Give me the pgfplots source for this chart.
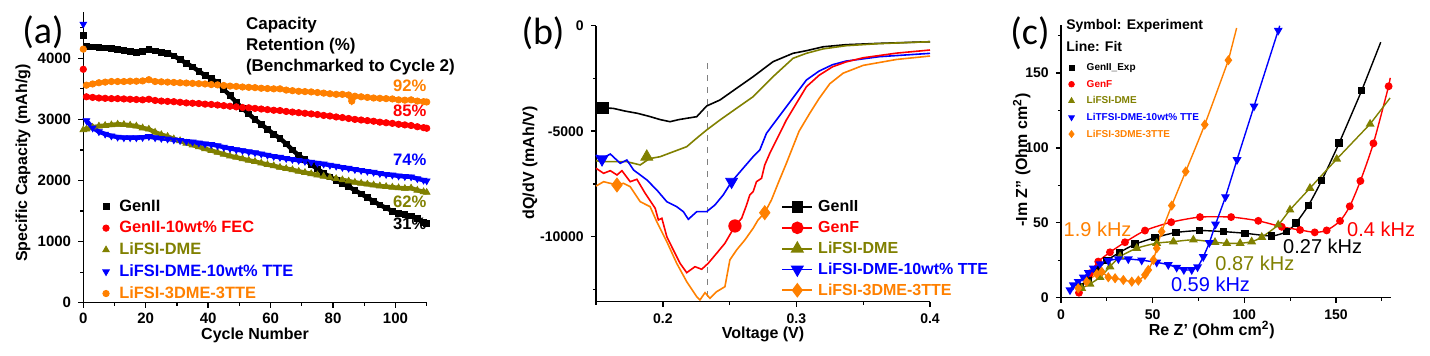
\documentclass[border=0pt]{standalone}
\usepackage{pgfplots}
\usepackage{pgfplotstable}
\pgfplotsset{compat=1.18}
\usepackage{fontspec}
\setmainfont{Liberation Sans}
\newfontfamily\calib{Carlito}
\definecolor{oOrange}{RGB}{255,128,0}
\definecolor{oOlive}{RGB}{128,128,0}
\definecolor{oRed}{RGB}{255,0,0}
\definecolor{oBlue}{RGB}{0,0,255}
\newcommand{\fs}[1]{\fontsize{#1}{#1}\selectfont\bfseries}

\pgfplotstableread{
c v
1 4190
3 4185
5 4180
7 4170
9 4160
11 4150
13 4130
15 4110
17 4100
19 4110
21 4150
23 4120
25 4100
27 4080
29 4040
31 3980
33 3920
35 3860
37 3790
39 3720
41 3670
43 3600
45 3490
47 3390
49 3280
51 3180
53 3090
55 3000
57 2920
59 2840
61 2760
63 2690
65 2600
67 2500
69 2410
71 2340
73 2260
75 2190
77 2120
79 2060
81 2000
83 1950
85 1900
87 1840
89 1780
91 1720
93 1660
95 1600
97 1550
99 1500
101 1460
103 1440
105 1420
107 1380
109 1320
110 1300
}\aBlack

\pgfplotstableread{
c v
1 3560
3 3580
5 3600
7 3610
9 3620
11 3620
13 3620
15 3625
17 3625
19 3630
21 3650
23 3620
25 3615
27 3610
29 3605
31 3600
33 3595
35 3590
37 3585
39 3580
41 3570
43 3565
45 3555
47 3545
49 3540
51 3530
53 3525
55 3520
57 3510
59 3505
61 3500
63 3500
65 3480
67 3470
69 3460
71 3455
73 3450
75 3440
77 3430
79 3420
81 3410
83 3410
85 3400
86 3300
87 3380
89 3370
91 3360
93 3350
95 3345
97 3340
99 3335
101 3320
103 3315
105 3320
107 3300
109 3290
110 3285
}\aOrange

\pgfplotstableread{
c v
1 3370
3 3360
5 3350
7 3345
9 3340
11 3340
13 3335
15 3330
17 3325
19 3320
21 3330
23 3310
25 3300
27 3295
29 3290
31 3280
33 3270
35 3265
37 3260
39 3250
41 3245
43 3235
45 3225
47 3215
49 3205
51 3195
53 3190
55 3180
57 3170
59 3160
61 3150
63 3145
65 3130
67 3120
69 3110
71 3100
73 3090
75 3080
77 3065
79 3055
81 3040
83 3030
85 3015
87 3000
89 2990
91 2980
93 2970
95 2955
97 2945
99 2935
101 2920
103 2910
105 2900
107 2880
109 2865
110 2855
}\aRed

\pgfplotstableread{
c v
0 2830
1 2840
3 2870
5 2890
7 2900
9 2910
11 2920
13 2915
15 2905
17 2890
19 2860
21 2840
23 2790
25 2750
27 2720
29 2680
31 2650
33 2610
35 2580
37 2550
39 2520
41 2490
43 2460
45 2430
47 2400
49 2380
51 2355
53 2330
55 2310
57 2285
59 2260
61 2240
63 2215
65 2195
67 2175
69 2150
71 2130
73 2110
75 2090
77 2070
79 2050
81 2030
83 2010
85 1990
87 1970
89 1955
91 1940
93 1925
95 1910
97 1900
99 1890
101 1880
103 1870
105 1875
107 1840
109 1815
110 1805
}\aOlive

\pgfplotstableread{
c v
1 2980
3 2860
5 2800
7 2760
9 2730
11 2710
13 2700
15 2700
17 2700
19 2705
21 2720
23 2700
25 2690
27 2680
29 2665
31 2655
33 2640
35 2630
37 2615
39 2600
41 2590
43 2570
45 2545
47 2525
49 2505
51 2490
53 2470
55 2455
57 2435
59 2415
61 2395
63 2380
65 2360
67 2345
69 2330
71 2315
73 2300
75 2285
77 2270
79 2250
81 2235
83 2215
85 2200
87 2180
89 2165
91 2150
93 2135
95 2115
97 2100
99 2090
101 2075
103 2065
105 2060
107 2030
109 2005
110 1995
}\aBlue

\pgfplotsset{
  panel/.style={
    scale only axis, anchor=south west,
    axis x line*=bottom, axis y line*=left,
    tick align=outside, major tick length=2.6pt, minor tick length=1.6pt,
    axis line style={line width=0.7pt},
    every tick/.style={line width=0.7pt, black},
    every minor tick/.style={line width=0.6pt, black},
    scaled ticks=false,
    /pgf/number format/1000 sep={},
    /pgf/number format/assume math mode=true,
    clip=false,
    tick label style={font=\fs{7}},
    label style={font=\fs{8}},
    legend cell align=left,
  },
}

\begin{document}
\begin{tikzpicture}
\useasboundingbox (0,0) rectangle (715pt,178pt);

% ---------------- (a) ----------------
\begin{axis}[panel,
  at={(41.65pt,26.65pt)}, width=171.7pt, height=145.1pt,
  xmin=0, xmax=110, ymin=0, ymax=4750,
  xtick={0,20,40,60,80,100}, minor xtick={10,30,50,70,90,110},
  ytick={0,1000,2000,3000,4000}, minor ytick={500,1500,2500,3500,4500},
  tick label style={font=\fs{7.5}},
  xticklabel style={yshift=1pt},
  xlabel={Cycle Number}, ylabel={Specific Capacity (mAh/g)},
  xlabel style={at={(axis description cs:0.5,-0.112)}, anchor=center},
  ylabel style={at={(axis description cs:-0.1756,0.481)}, anchor=center},
  legend style={at={(0.038,0.372)}, anchor=north west, draw=none, fill=none,
    font=\fs{8.2}, row sep=3.7pt, column sep=5pt,
    nodes={inner sep=0pt, text height=6pt, text depth=1.2pt}},
  legend image code/.code={\draw[mark repeat=2,mark phase=2,#1] plot coordinates {(0pt,0pt)(4.25pt,0pt)(8.5pt,0pt)};},
]
\addplot[forget plot, black, line width=2.2pt] table[x=c,y=v] {\aBlack};
\addplot[only marks, black, mark=square*, mark size=1.45pt] table[x=c,y=v] {\aBlack};
\addlegendentry{GenII}
\addplot[forget plot, oRed, line width=2.2pt] table[x=c,y=v] {\aRed};
\addplot[only marks, oRed, mark=*, mark size=1.6pt] table[x=c,y=v] {\aRed};
\addlegendentry{\textcolor{oRed}{GenII-10wt\% FEC}}
\addplot[forget plot, oOlive, line width=2.2pt] table[x=c,y=v] {\aOlive};
\addplot[only marks, oOlive, mark=triangle*, mark size=1.9pt] table[x=c,y=v] {\aOlive};
\addlegendentry{\textcolor{oOlive}{LiFSI-DME}}
\addplot[forget plot, oBlue, line width=2.2pt] table[x=c,y=v] {\aBlue};
\addplot[only marks, oBlue, mark=triangle*, mark size=1.9pt, mark options={rotate=180}] table[x=c,y=v] {\aBlue};
\addlegendentry{\textcolor{oBlue}{LiFSI-DME-10wt\% TTE}}
\addplot[forget plot, oOrange, line width=2.2pt] table[x=c,y=v] {\aOrange};
\addplot[only marks, oOrange, mark=*, mark size=1.6pt] table[x=c,y=v] {\aOrange};
\addlegendentry{\textcolor{oOrange}{LiFSI-3DME-3TTE}}
% cycle-0 points
\addplot[forget plot, only marks, black, mark=square*, mark size=1.45pt] coordinates {(0,4380)};
\addplot[forget plot, only marks, oRed, mark=*, mark size=1.6pt] coordinates {(0,3820)};
\addplot[forget plot, only marks, oBlue, mark=triangle*, mark size=1.9pt, mark options={rotate=180}] coordinates {(0,4560)};
\addplot[forget plot, only marks, oOrange, mark=*, mark size=1.6pt] coordinates {(0,4150)};
% annotations
\node[anchor=west, inner sep=0pt, font=\fs{8.5}] at (axis cs:52,4545) {Capacity};
\node[anchor=west, inner sep=0pt, font=\fs{8.5}] at (axis cs:52,4201) {Retention (\%)};
\node[anchor=west, inner sep=0pt, font=\fs{8.5}] at (axis cs:52,3852) {(Benchmarked to Cycle 2)};
\node[anchor=east, inner sep=0pt, font=\fs{8.3}, text=oOrange] at (axis cs:110,3547) {92\%};
\node[anchor=east, inner sep=0pt, font=\fs{8.3}, text=oRed] at (axis cs:110,3137) {85\%};
\node[anchor=east, inner sep=0pt, font=\fs{8.3}, text=oBlue] at (axis cs:110,2347) {74\%};
\node[anchor=east, inner sep=0pt, font=\fs{8.3}, text=oOlive] at (axis cs:110,1653) {62\%};
\node[anchor=east, inner sep=0pt, font=\fs{8.3}, text=black] at (axis cs:110,1288) {31\%};
\end{axis}

% ---------------- (b) ----------------
\begin{axis}[panel,
  at={(298pt,27.15pt)}, width=167pt, height=138pt,
  xmin=0.15, xmax=0.4, ymin=-13080, ymax=0,
  xtick={0.2,0.3,0.4}, minor xtick={0.15,0.25,0.35},
  ytick={-10000,-5000,0}, minor ytick={-12500,-7500,-2500},
  xlabel={Voltage (V)}, ylabel={dQ/dV (mAh/V)},
  xlabel style={at={(axis description cs:0.5,-0.118)}, anchor=center},
  ylabel style={at={(axis description cs:-0.198,0.503)}, anchor=center},
  legend style={at={(0.536,0.385)}, anchor=north west, draw=none, fill=none,
    font=\fs{8}, row sep=3.2pt, column sep=2.5pt,
    nodes={inner sep=0pt, text height=6pt, text depth=1.2pt}},
  legend image code/.code={\draw[mark repeat=2,mark phase=2,#1] plot coordinates {(0pt,0pt)(7.5pt,0pt)(15pt,0pt)};},
]
\addlegendimage{black, line width=0.9pt, mark=square*, mark size=2.4pt}
\addlegendentry{GenII}
\addlegendimage{oRed, line width=0.9pt, mark=*, mark size=2.7pt}
\addlegendentry{\textcolor{oRed}{GenF}}
\addlegendimage{oOlive, line width=0.9pt, mark=triangle*, mark size=3pt}
\addlegendentry{\textcolor{oOlive}{LiFSI-DME}}
\addlegendimage{oBlue, line width=0.9pt, mark=triangle*, mark size=3pt, mark options={rotate=180}}
\addlegendentry{\textcolor{oBlue}{LiFSI-DME-10wt\% TTE}}
\addlegendimage{oOrange, line width=0.9pt, mark=diamond*, mark size=3pt}
\addlegendentry{\textcolor{oOrange}{LiFSI-3DME-3TTE}}

\addplot[forget plot, gray, dashed, line width=0.6pt] coordinates {(0.2336,-1790)(0.2336,-13080)};

\addplot[forget plot, black, line width=0.8pt] coordinates {
(0.150,-3870)(0.1545,-3886)(0.163,-3920)(0.172,-4050)(0.181,-4152)(0.190,-4300)(0.198,-4450)(0.2054,-4550)(0.212,-4450)(0.2179,-4389)(0.2254,-4313)(0.2328,-3806)(0.2428,-3521)(0.2552,-2967)(0.2676,-2417)(0.2825,-1706)(0.2975,-1308)(0.3075,-1185)(0.320,-1000)(0.337,-900)(0.362,-837)(0.400,-760)};
\addplot[forget plot, oOlive, line width=0.8pt] coordinates {
(0.150,-6400)(0.1557,-6445)(0.1731,-6445)(0.1831,-6600)(0.190,-6300)(0.198,-6209)(0.2079,-5972)(0.2179,-5735)(0.225,-5350)(0.2328,-4943)(0.2428,-4469)(0.2552,-3915)(0.2676,-3365)(0.2825,-2417)(0.2975,-1545)(0.3075,-1308)(0.320,-1100)(0.337,-950)(0.362,-850)(0.400,-760)};
\addplot[forget plot, oBlue, line width=0.8pt] coordinates {
(0.150,-6128)(0.1545,-6300)(0.1607,-6081)(0.1681,-6521)(0.1731,-6365)(0.1781,-6838)(0.1881,-7312)(0.1955,-7786)(0.2030,-8341)(0.2104,-8578)(0.2154,-8815)(0.2191,-9175)(0.2254,-8815)(0.2328,-8815)(0.2390,-8497)(0.2452,-8023)(0.2515,-7393)(0.2601,-6758)(0.2676,-6208)(0.2726,-5891)(0.2776,-5099)(0.2925,-3839)(0.3075,-2573)(0.317,-2150)(0.327,-1850)(0.337,-1680)(0.362,-1470)(0.400,-1311)};
\addplot[forget plot, oRed, line width=0.8pt] coordinates {
(0.150,-6758)(0.1557,-6995)(0.1607,-6872)(0.1657,-7075)(0.1694,-6872)(0.1756,-7393)(0.1806,-7279)(0.1868,-7943)(0.1943,-8654)(0.1967,-9208)(0.1993,-9128)(0.2030,-9999)(0.2079,-10630)(0.2129,-11260)(0.2179,-11705)(0.2241,-11421)(0.2291,-11544)(0.2340,-11260)(0.2403,-10786)(0.2465,-10312)(0.2540,-9492)(0.2590,-9128)(0.2627,-8497)(0.2651,-8023)(0.2676,-7867)(0.2701,-7393)(0.2739,-7232)(0.2763,-6601)(0.2801,-6047)(0.2925,-4469)(0.3075,-2891)(0.317,-2350)(0.327,-1950)(0.337,-1720)(0.350,-1520)(0.375,-1300)(0.400,-1153)};
\addplot[forget plot, oOrange, line width=0.8pt] coordinates {
(0.150,-7600)(0.1557,-7393)(0.1657,-7549)(0.1706,-7469)(0.1756,-7630)(0.1831,-8341)(0.1905,-8578)(0.1955,-9289)(0.2030,-10236)(0.2104,-11260)(0.2179,-12132)(0.2254,-12843)(0.2278,-12999)(0.2316,-12653)(0.2353,-12919)(0.2403,-12606)(0.2465,-12369)(0.2502,-11103)(0.2552,-10630)(0.2614,-10156)(0.2676,-9601)(0.2713,-9208)(0.2763,-8862)(0.2813,-8260)(0.2863,-7469)(0.2925,-6521)(0.302,-5000)(0.310,-4150)(0.317,-3450)(0.325,-2750)(0.335,-2250)(0.350,-1880)(0.375,-1600)(0.400,-1438)};
% single markers on the curves
\addplot[forget plot, only marks, black, mark=square*, mark size=2.8pt] coordinates {(0.155,-3880)};
\addplot[forget plot, only marks, oOlive, mark=triangle*, mark size=3.4pt] coordinates {(0.188,-6209)};
\addplot[forget plot, only marks, oBlue, mark=triangle*, mark size=3.4pt, mark options={rotate=180}] coordinates {(0.1545,-6330)(0.2515,-7393)};
\addplot[forget plot, only marks, oRed, mark=*, mark size=3.1pt] coordinates {(0.2540,-9492)};
\addplot[forget plot, only marks, oOrange, mark=diamond*, mark size=3.5pt] coordinates {(0.1657,-7549)(0.2763,-8862)};
\end{axis}

% ---------------- (c) ----------------
\begin{axis}[panel,
  at={(530.5pt,29.15pt)}, width=165pt, height=136.35pt,
  xmin=0, xmax=180, ymin=0, ymax=182,
  xtick={0,50,100,150}, minor xtick={25,75,125,175},
  ytick={0,50,100,150}, minor ytick={25,75,125,175},
  xlabel={Re Z' (Ohm cm$^{\mathbf 2}$)}, ylabel={-Im Z'' (Ohm cm$^{\mathbf 2}$)},
  xlabel style={at={(axis description cs:0.457,-0.118)}, anchor=center},
  ylabel style={at={(axis description cs:-0.119,0.505)}, anchor=center},
  legend style={at={(0.004,0.878)}, anchor=north west, draw=none, fill=none,
    font=\fs{5}, row sep=3.3pt, column sep=6.2pt,
    nodes={inner sep=0pt, text height=4pt, text depth=1pt}},
  legend image code/.code={\draw[mark repeat=2,mark phase=2,#1] plot coordinates {(0pt,0pt)(3pt,0pt)(6pt,0pt)};},
]
\addlegendimage{only marks, black, mark=square*, mark size=1.2pt}
\addlegendentry{GenII\_Exp}
\addlegendimage{only marks, oRed, mark=*, mark size=1.4pt}
\addlegendentry{\textcolor{oRed}{GenF}}
\addlegendimage{only marks, oOlive, mark=triangle*, mark size=1.6pt}
\addlegendentry{\textcolor{oOlive}{LiFSI-DME}}
\addlegendimage{only marks, oBlue, mark=triangle*, mark size=1.6pt, mark options={rotate=180}}
\addlegendentry{\textcolor{oBlue}{LiTFSI-DME-10wt\% TTE}}
\addlegendimage{only marks, oOrange, mark=diamond*, mark size=1.7pt}
\addlegendentry{\textcolor{oOrange}{LiFSI-3DME-3TTE}}

% GenII
\addplot[forget plot, black, line width=0.7pt, smooth, tension=0.4, mark=square*, mark size=1.5pt, mark options={solid}] coordinates {
(10.4,7.4)(14.9,13)(19.5,18.5)(24.9,24.7)(31.8,30.1)(40.4,35.7)(51.3,40.1)(62.7,43.5)(75.5,44.8)(88.5,44.1)(100.4,43)(114.9,41.2)(123.1,44.1)(128.2,49.9)(134.9,61.5)(142.2,78.2)(151.7,103.2)(164.0,138.2)};
\addplot[forget plot, black, line width=0.7pt] coordinates {(164.0,138.2)(174.4,170.5)};
% GenF
\addplot[forget plot, oRed, line width=0.7pt, smooth, tension=0.4, mark=*, mark size=1.6pt, mark options={solid}] coordinates {
(9.8,3.3)(15.8,16.3)(20.3,24.1)(26.7,30.3)(34.9,37)(45.8,44.8)(60.1,50.4)(75.8,53.8)(92.8,53.8)(107.6,51.3)(120.4,47.3)(130.4,45.2)(138.4,43.6)(144.9,44.9)(152.2,51.2)(157.5,61)(163.3,77.9)(170.4,103)(178.7,141.1)};
\addplot[forget plot, oRed, line width=0.7pt] coordinates {(178.7,141.1)(179.6,146.7)};
% LiFSI-DME
\addplot[forget plot, oOlive, line width=0.7pt, smooth, tension=0.4, mark=triangle*, mark size=1.9pt, mark options={solid}] coordinates {
(11.3,6.3)(15.8,9.2)(21.3,13.6)(26.7,20.7)(32.2,27.4)(41.3,33)(52.2,36.4)(61.3,37.4)(72.2,38.6)(84,37)(90.4,36.3)(97.7,36.3)(104,37.4)(109.5,40.4)(118.5,48.6)(124.9,58.6)(135.8,73.1)(150.4,92.5)(168.6,115.9)};
\addplot[forget plot, oOlive, line width=0.7pt] coordinates {(168.6,115.9)(179.5,133.3)};
% LiTFSI-DME-10wt% TTE
\addplot[forget plot, oBlue, line width=0.7pt, smooth, tension=0.4, mark=triangle*, mark size=1.9pt, mark options={solid, rotate=180}] coordinates {
(4.9,5.1)(6.7,8.5)(9.4,10.7)(12.2,13.6)(14.9,16.7)(17.6,19.7)(21.3,22.5)(25.8,24.7)(31.3,25.9)(36.7,25.8)(44,25)(52.2,23.6)(58.5,22)(63.1,20.2)(67,18.6)(71.3,18.6)(74.5,20.5)(77.6,27.3)(80.9,36.7)(84.3,49)(89.7,67.3)(96,92)(105.3,127.8)(118.5,178.4)};
\addplot[forget plot, oBlue, line width=0.7pt] coordinates {(118.5,178.4)(119.3,181.5)};
% LiFSI-3DME-3TTE
\addplot[forget plot, oOrange, line width=0.7pt, smooth, tension=0.4, mark=diamond*, mark size=2pt, mark options={solid}] coordinates {
(9.4,6.3)(14,10.7)(19.5,15.8)(22.2,17.4)(25.8,13.6)(29.5,13)(34,11.8)(38.6,10.7)(42.2,11.4)(45.8,15.2)(47.6,18.5)(50.4,25.2)(52.2,33)(54.9,44.1)(60.4,61.5)(68,84.2)(78.4,115.5)(91.3,158.5)};
\addplot[forget plot, oOrange, line width=0.7pt] coordinates {(91.3,158.5)(95.8,180)};

\node[anchor=west, inner sep=0pt, font=\fs{7}] at (axis cs:2.7,181.1) {Symbol: Experiment};
\node[anchor=west, inner sep=0pt, font=\fs{7}] at (axis cs:2.7,167.4) {Line: Fit};
\node[anchor=west, inner sep=0pt, font=\fontsize{10}{10}\selectfont, text=oOrange] at (axis cs:1.25,45.3) {1.9 kHz};
\node[anchor=west, inner sep=0pt, font=\fontsize{10}{10}\selectfont, text=oRed] at (axis cs:155.9,45.7) {0.4 kHz};
\node[anchor=west, inner sep=0pt, font=\fontsize{10}{10}\selectfont, text=black] at (axis cs:121,34.1) {0.27 kHz};
\node[anchor=west, inner sep=0pt, font=\fontsize{10}{10}\selectfont, text=oOlive] at (axis cs:84,23) {0.87 kHz};
\node[anchor=west, inner sep=0pt, font=\fontsize{10}{10}\selectfont, text=oBlue] at (axis cs:59.8,9.2) {0.59 kHz};
\end{axis}

% panel letters
\node[font=\calib\fontsize{19}{19}\selectfont] at (21.5pt,162pt) {(a)};
\node[font=\calib\fontsize{19}{19}\selectfont] at (271.5pt,161.5pt) {(b)};
\node[font=\calib\fontsize{19}{19}\selectfont] at (515pt,161.5pt) {(c)};
\end{tikzpicture}
\end{document}
